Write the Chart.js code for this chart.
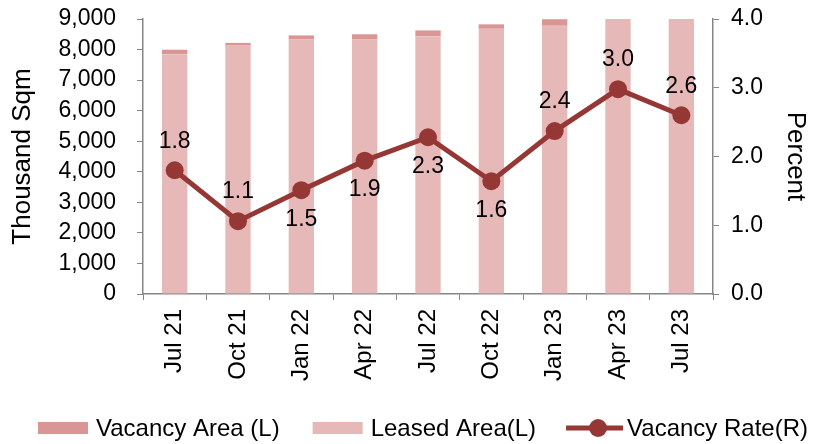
<!DOCTYPE html>
<html>
<head>
<meta charset="utf-8">
<script src="https://cdn.jsdelivr.net/npm/chart.js@4.4.0/dist/chart.umd.min.js"></script>
<style>
html,body{margin:0;padding:0;background:#fff;}
#wrap{width:814px;height:444px;}
</style>
</head>
<body>
<div id="wrap"><canvas id="c" width="814" height="444"></canvas></div>
<script>
// ---- data ----
const categories = ['Jul 21','Oct 21','Jan 22','Apr 22','Jul 22','Oct 22','Jan 23','Apr 23','Jul 23'];
const leasedArea = [7850, 8130, 8335, 8335, 8430, 8680, 8780, 9050, 9150];
const vacancyArea = [145, 88, 128, 165, 196, 145, 213, 278, 244];
const vacancyRate = [1.80, 1.06, 1.51, 1.94, 2.28, 1.64, 2.37, 2.98, 2.60];
const leftTicks = [0, 1000, 2000, 3000, 4000, 5000, 6000, 7000, 8000, 9000];
const rightTicks = [0, 1, 2, 3, 4];

// ---- styles ----
const FONT = "'Liberation Sans', Arial, sans-serif";
const FS_TICK = 23;
const FS_X = 24;
const FS_TITLE = 26;
const FS_LABEL = 23;
const FS_LEGEND = 24;
const C_LEASED = '#E6B8B7';
const C_VACANT = '#DA9694';
const C_LINE = '#953735';
const C_AXIS = '#868686';
const labelSide = [-1, -1, 1, 1, 1, 1, -1, -1, -1];

const dataLabels = {
  id: 'dataLabels',
  afterDatasetsDraw(chart) {
    const meta = chart.getDatasetMeta(2);
    const ctx = chart.ctx;
    ctx.save();
    ctx.font = FS_LABEL + 'px ' + FONT;
    ctx.fillStyle = '#000';
    ctx.textAlign = 'center';
    ctx.textBaseline = 'middle';
    meta.data.forEach((pt, i) => {
      ctx.fillText(vacancyRate[i].toFixed(1), pt.x, pt.y + labelSide[i] * 29);
    });
    ctx.restore();
  }
};

const customLegend = {
  id: 'customLegend',
  afterDraw(chart) {
    const ctx = chart.ctx;
    const items = [
      {ds: chart.data.datasets[1], type: 'box', gap: 8, after: 33},
      {ds: chart.data.datasets[0], type: 'box', gap: 8, after: 30},
      {ds: chart.data.datasets[2], type: 'line', gap: 4, after: 0}
    ];
    ctx.save();
    ctx.font = FS_LEGEND + 'px ' + FONT;
    ctx.textBaseline = 'middle';
    ctx.textAlign = 'left';
    let x = 38;
    const y = 428;
    items.forEach(it => {
      let bw;
      if (it.type === 'box') {
        bw = 50;
        ctx.fillStyle = it.ds.backgroundColor;
        ctx.fillRect(x, y - 6, bw, 12);
      } else {
        bw = 57;
        ctx.strokeStyle = it.ds.borderColor;
        ctx.lineWidth = 5;
        ctx.beginPath();
        ctx.moveTo(x, y);
        ctx.lineTo(x + bw, y);
        ctx.stroke();
        ctx.fillStyle = it.ds.borderColor;
        ctx.beginPath();
        ctx.arc(x + 32, y, 9, 0, Math.PI * 2);
        ctx.fill();
      }
      ctx.fillStyle = '#000';
      ctx.fillText(it.ds.label, x + bw + it.gap, y + 1);
      x += bw + it.gap + ctx.measureText(it.ds.label).width + it.after;
    });
    ctx.restore();
  }
};

function noPad(s) { s.paddingTop = 0; s.paddingBottom = 0; s.paddingLeft = 0; s.paddingRight = 0; }

new Chart(document.getElementById('c'), {
  type: 'bar',
  data: {
    labels: categories,
    datasets: [
      {label: 'Leased Area(L)', data: leasedArea, backgroundColor: C_LEASED, yAxisID: 'y', stack: 's', barPercentage: 0.4, categoryPercentage: 1, order: 2},
      {label: 'Vacancy Area (L)', data: vacancyArea, backgroundColor: C_VACANT, yAxisID: 'y', stack: 's', barPercentage: 0.4, categoryPercentage: 1, order: 2},
      {type: 'line', label: 'Vacancy Rate(R)', data: vacancyRate, yAxisID: 'y1', borderColor: C_LINE, backgroundColor: C_LINE,
       borderWidth: 5, pointRadius: 9, pointBackgroundColor: C_LINE, pointBorderWidth: 0, pointHoverRadius: 9, tension: 0, order: 1}
    ]
  },
  options: {
    responsive: false,
    animation: false,
    devicePixelRatio: 1,
    layout: {autoPadding: false, padding: {top: 19, bottom: 50, left: 0, right: 0}},
    plugins: {legend: {display: false}, tooltip: {enabled: false}},
    scales: {
      x: {
        stacked: true,
        offset: true,
        grid: {display: true, drawOnChartArea: false, drawTicks: true, tickLength: 6, color: C_AXIS, offset: true},
        border: {display: true, color: C_AXIS, width: 1.5},
        ticks: {font: {family: FONT, size: FS_X}, color: '#000', maxRotation: 90, minRotation: 90, padding: 9, autoSkip: false},
        afterFit(s) { s.height = 100; noPad(s); }
      },
      y: {
        position: 'left',
        stacked: true,
        min: 0, max: 9000,
        afterBuildTicks(s) { s.ticks = leftTicks.map(v => ({value: v})); },
        grid: {display: true, drawOnChartArea: false, drawTicks: true, tickLength: 6, color: C_AXIS},
        border: {display: true, color: C_AXIS, width: 1.5},
        ticks: {font: {family: FONT, size: FS_TICK}, color: '#000', padding: 21, autoSkip: false, callback: v => v.toLocaleString('en-US')},
        title: {display: true, text: 'Thousand Sqm', font: {family: FONT, size: FS_TITLE}, color: '#000', padding: {top: 7, bottom: 0}},
        afterFit(s) { s.width = 143; noPad(s); }
      },
      y1: {
        position: 'right',
        min: 0, max: 4,
        afterBuildTicks(s) { s.ticks = rightTicks.map(v => ({value: v})); },
        grid: {display: true, drawOnChartArea: false, drawTicks: true, tickLength: 6, color: C_AXIS},
        border: {display: true, color: C_AXIS, width: 1.5},
        ticks: {font: {family: FONT, size: FS_TICK}, color: '#000', padding: 12, autoSkip: false, callback: v => Number(v).toFixed(1)},
        title: {display: true, text: 'Percent', font: {family: FONT, size: FS_TITLE}, color: '#000', padding: {top: 3, bottom: 0}},
        afterFit(s) { s.width = 101; noPad(s); }
      }
    }
  },
  plugins: [dataLabels, customLegend]
});
</script>
</body>
</html>
